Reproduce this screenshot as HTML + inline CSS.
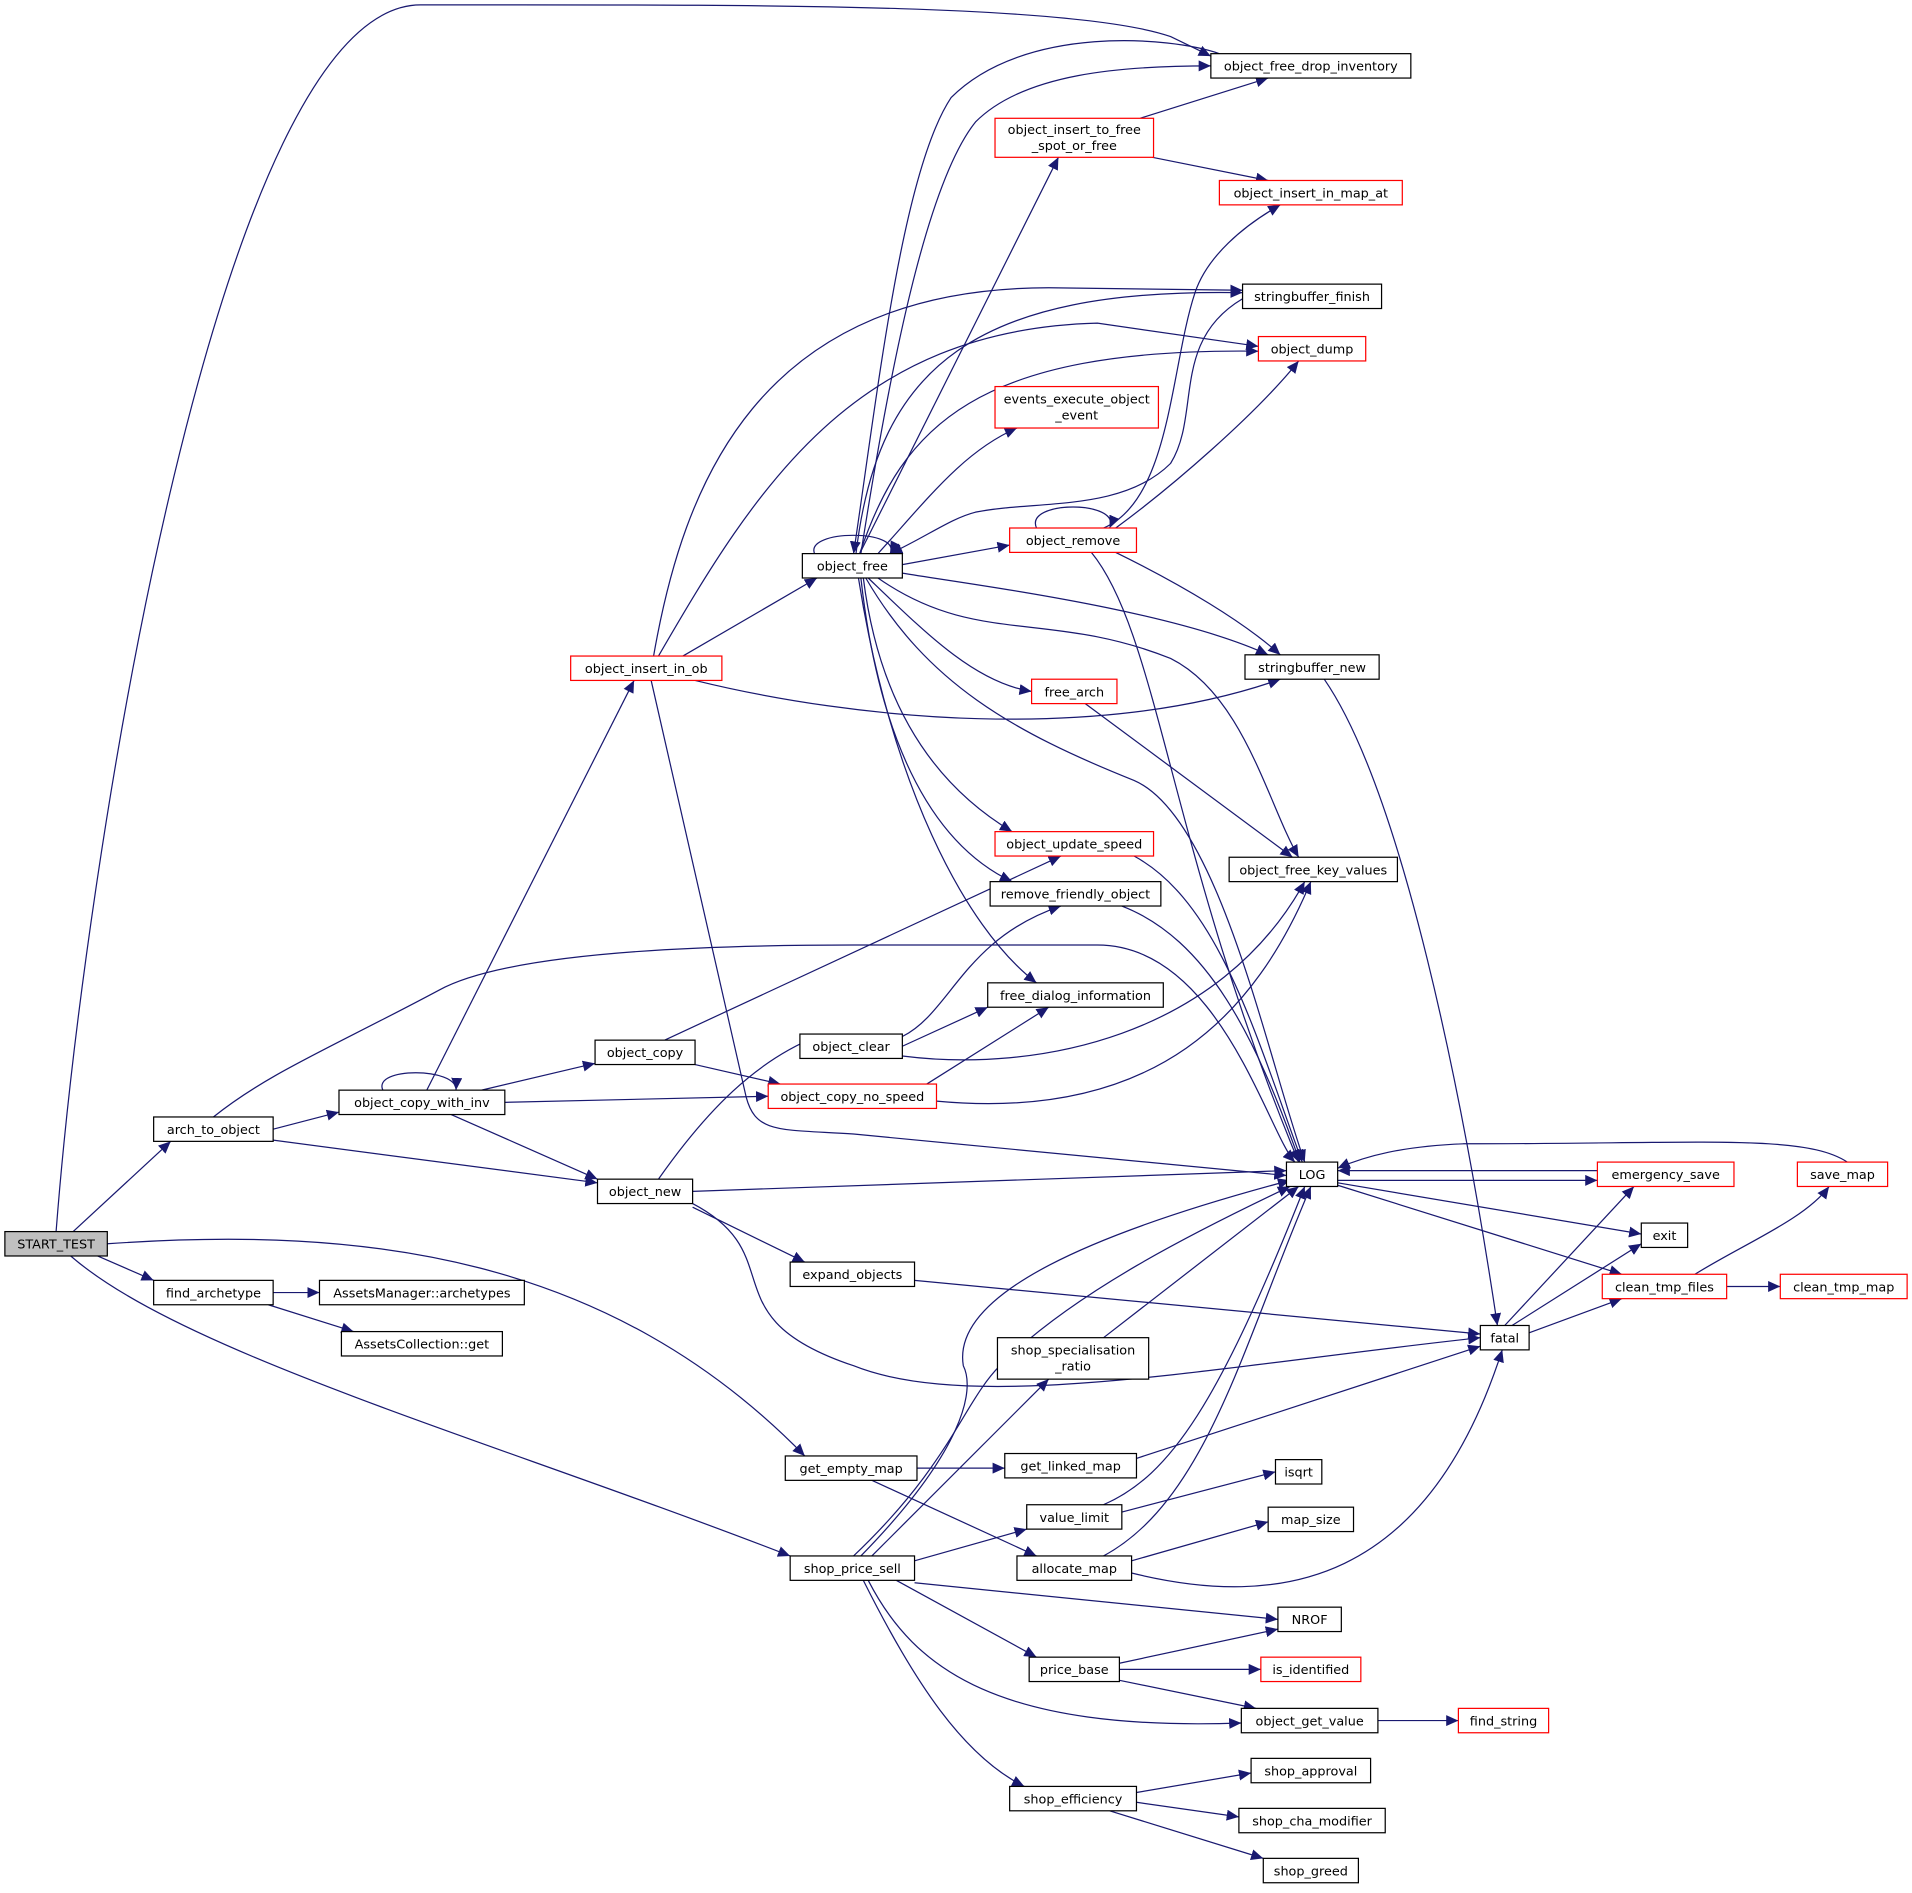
<!DOCTYPE html>
<html><head><meta charset="utf-8"><style>
html,body{margin:0;padding:0;background:#fff;}
svg{display:block}
text{font-family:"DejaVu Sans","Liberation Sans",sans-serif;font-size:10.5px;fill:#000;text-anchor:middle}
.n{fill:#fff;stroke:#000;stroke-width:1}
.r{fill:#fff;stroke:#ff0000;stroke-width:1}
.e path{fill:none;stroke:#191970;stroke-width:1;marker-end:url(#a)}
</style></head><body>
<svg width="1912" height="1893" viewBox="0 0 1568 1552.4" xmlns="http://www.w3.org/2000/svg">
<defs><marker id="a" markerUnits="userSpaceOnUse" markerWidth="11" markerHeight="9" refX="10" refY="4.5" orient="auto"><path d="M0,0 L10,4.5 L0,9 Z" fill="#191970"/></marker></defs>
<g class="e">
<path d="M46,1010 C70,700 180,4 345,4 C600,4 880,2 960,30 L993,46"/>
<path d="M60,1010 L140,936"/>
<path d="M80,1030 L126,1050"/>
<path d="M88,1020 C300,1005 500,1030 660,1194"/>
<path d="M58,1030 C150,1110 400,1180 648,1276"/>
<path d="M224,1060 L262,1060"/>
<path d="M220,1070 L290,1092"/>
<path d="M224,926 L278,912"/>
<path d="M224,935 L490,970"/>
<path d="M175,916 C220,880 270,860 360,812 C400,790 500,775 700,775 L900,775 C1000,775 1040,930 1062,953"/>
<path d="M314,894 C305,875 375,875 374,894"/>
<path d="M350,894 L520,558"/>
<path d="M395,894 L488,872"/>
<path d="M414,904 L630,899"/>
<path d="M370,914 L490,967"/>
<path d="M560,538 L670,474"/>
<path d="M536,538 C560,400 620,236 860,236 L1019,238"/>
<path d="M540,538 C620,400 700,270 900,265 L1032,284"/>
<path d="M570,558 C700,590 900,610 1050,557"/>
<path d="M534,558 L612,900 C620,930 640,926 700,930 L1055,964"/>
<path d="M545,853 L870,702"/>
<path d="M570,873 L640,889"/>
<path d="M540,967 C580,910 620,870 670,850"/>
<path d="M568,977 L1055,960"/>
<path d="M568,990 L660,1035"/>
<path d="M568,987 C650,1030 580,1080 700,1120 C800,1160 1000,1120 1214,1097"/>
<path d="M740,850 C780,830 790,770 870,743"/>
<path d="M740,858 L810,826"/>
<path d="M740,866 C850,880 1000,850 1070,723"/>
<path d="M760,889 L860,826"/>
<path d="M768,903 C950,920 1030,830 1075,723"/>
<path d="M668,454 C660,434 740,434 730,454"/>
<path d="M1000,44 C960,30 840,20 780,80 C740,140 720,320 700,454"/>
<path d="M706,454 C730,300 760,150 800,100 C840,60 920,54 993,54"/>
<path d="M705,454 L868,129"/>
<path d="M702,454 C720,300 800,236 1019,240"/>
<path d="M705,454 C740,350 800,285 1032,288"/>
<path d="M720,454 C760,410 790,370 834,351"/>
<path d="M740,463 L828,447"/>
<path d="M740,470 C800,480 960,500 1040,537"/>
<path d="M712,474 C760,520 800,560 846,567"/>
<path d="M708,474 C720,570 760,640 830,682"/>
<path d="M706,474 C720,600 760,690 830,723"/>
<path d="M704,474 C730,640 790,760 850,806"/>
<path d="M720,474 C800,530 860,500 960,540 C1020,570 1040,660 1065,703"/>
<path d="M710,474 C760,560 830,600 930,640 C1000,670 1040,870 1070,953"/>
<path d="M1019,245 C960,280 985,340 960,380 C920,420 850,410 800,420 C780,425 760,440 730,454"/>
<path d="M905,433 C960,410 960,300 980,240 C990,210 1020,185 1050,168"/>
<path d="M915,433 C960,400 1030,340 1065,296"/>
<path d="M935,97 L1040,64"/>
<path d="M945,129 L1040,148"/>
<path d="M850,433 C840,410 920,410 910,433"/>
<path d="M915,453 C970,480 1020,510 1050,537"/>
<path d="M895,453 C950,520 960,700 1065,953"/>
<path d="M890,577 L1060,703"/>
<path d="M930,702 C1000,740 1030,850 1068,953"/>
<path d="M920,743 C990,770 1030,850 1066,953"/>
<path d="M1086,557 C1150,650 1200,900 1228,1087"/>
<path d="M1097,968 L1310,968"/>
<path d="M1310,960 L1097,960"/>
<path d="M1515,953 C1480,930 1400,938 1200,938 C1150,940 1120,948 1097,958"/>
<path d="M1097,970 L1346,1012"/>
<path d="M1097,972 L1330,1045"/>
<path d="M1240,1087 L1346,1020"/>
<path d="M1234,1087 L1340,973"/>
<path d="M1254,1093 L1330,1065"/>
<path d="M1390,1045 C1430,1020 1480,1000 1500,973"/>
<path d="M1416,1055 L1460,1055"/>
<path d="M750,1050 L1214,1094"/>
<path d="M905,1097 L1065,973"/>
<path d="M752,1204 L824,1204"/>
<path d="M715,1214 L850,1276"/>
<path d="M932,1196 L1214,1104"/>
<path d="M920,1240 L1046,1207"/>
<path d="M905,1234 C960,1210 1000,1150 1070,973"/>
<path d="M928,1280 L1040,1248"/>
<path d="M905,1276 C990,1230 1020,1100 1075,973"/>
<path d="M928,1290 C1050,1320 1170,1300 1232,1107"/>
<path d="M700,1276 C780,1200 790,1150 820,1120 C880,1060 980,1010 1058,973"/>
<path d="M706,1276 C790,1190 800,1140 790,1120 C780,1060 900,1010 1058,968"/>
<path d="M715,1276 L860,1131"/>
<path d="M750,1280 L842,1254"/>
<path d="M750,1298 L1048,1328"/>
<path d="M735,1296 L850,1359"/>
<path d="M712,1296 C750,1370 820,1420 1018,1413"/>
<path d="M708,1296 C750,1380 790,1440 840,1465"/>
<path d="M918,1364 L1048,1336"/>
<path d="M918,1369 L1034,1369"/>
<path d="M918,1378 L1030,1401"/>
<path d="M1130,1411 L1196,1411"/>
<path d="M932,1470 L1026,1454"/>
<path d="M932,1478 L1016,1490"/>
<path d="M910,1485 L1036,1524"/>
</g>
<g>
<rect x="4" y="1010" width="84" height="20" fill="#bfbfbf" stroke="#000"/><text x="46" y="1024">START_TEST</text>
<rect class="n" x="126" y="916" width="98" height="20"/><text x="175" y="930">arch_to_object</text>
<rect class="n" x="126" y="1050" width="98" height="20"/><text x="175" y="1064">find_archetype</text>
<rect class="n" x="262" y="1050" width="168" height="20"/><text x="346" y="1064">AssetsManager::archetypes</text>
<rect class="n" x="280" y="1092" width="132" height="20"/><text x="346" y="1106">AssetsCollection::get</text>
<rect class="n" x="278" y="894" width="136" height="20"/><text x="346" y="908">object_copy_with_inv</text>
<rect class="r" x="468" y="538" width="124" height="20"/><text x="530" y="552">object_insert_in_ob</text>
<rect class="n" x="488" y="853" width="82" height="20"/><text x="529" y="867">object_copy</text>
<rect class="n" x="490" y="967" width="78" height="20"/><text x="529" y="981">object_new</text>
<rect class="n" x="658" y="454" width="82" height="20"/><text x="699" y="468">object_free</text>
<rect class="n" x="656" y="848" width="84" height="20"/><text x="698" y="862">object_clear</text>
<rect class="r" x="630" y="889" width="138" height="20"/><text x="699" y="903">object_copy_no_speed</text>
<rect class="n" x="648" y="1035" width="102" height="20"/><text x="699" y="1049">expand_objects</text>
<rect class="n" x="644" y="1194" width="108" height="20"/><text x="698" y="1208">get_empty_map</text>
<rect class="n" x="648" y="1276" width="102" height="20"/><text x="699" y="1290">shop_price_sell</text>
<rect class="n" x="993" y="44" width="164" height="20"/><text x="1075" y="58">object_free_drop_inventory</text>
<rect class="r" x="816" y="97" width="130" height="32"/><text x="881" y="110">object_insert_to_free</text><text x="881" y="123">_spot_or_free</text>
<rect class="r" x="1000" y="148" width="150" height="20"/><text x="1075" y="162">object_insert_in_map_at</text>
<rect class="n" x="1019" y="233" width="114" height="20"/><text x="1076" y="247">stringbuffer_finish</text>
<rect class="r" x="1032" y="276" width="88" height="20"/><text x="1076" y="290">object_dump</text>
<rect class="r" x="816" y="317" width="134" height="34"/><text x="883" y="331">events_execute_object</text><text x="883" y="344">_event</text>
<rect class="r" x="828" y="433" width="104" height="20"/><text x="880" y="447">object_remove</text>
<rect class="n" x="1021" y="537" width="110" height="20"/><text x="1076" y="551">stringbuffer_new</text>
<rect class="r" x="846" y="557" width="70" height="20"/><text x="881" y="571">free_arch</text>
<rect class="r" x="816" y="682" width="130" height="20"/><text x="881" y="696">object_update_speed</text>
<rect class="n" x="1008" y="703" width="138" height="20"/><text x="1077" y="717">object_free_key_values</text>
<rect class="n" x="812" y="723" width="140" height="20"/><text x="882" y="737">remove_friendly_object</text>
<rect class="n" x="810" y="806" width="144" height="20"/><text x="882" y="820">free_dialog_information</text>
<rect class="n" x="1055" y="953" width="42" height="20"/><text x="1076" y="967">LOG</text>
<rect class="r" x="1310" y="953" width="112" height="20"/><text x="1366" y="967">emergency_save</text>
<rect class="r" x="1474" y="953" width="74" height="20"/><text x="1511" y="967">save_map</text>
<rect class="n" x="1346" y="1003" width="38" height="20"/><text x="1365" y="1017">exit</text>
<rect class="r" x="1314" y="1045" width="102" height="20"/><text x="1365" y="1059">clean_tmp_files</text>
<rect class="r" x="1460" y="1045" width="104" height="20"/><text x="1512" y="1059">clean_tmp_map</text>
<rect class="n" x="1214" y="1087" width="40" height="20"/><text x="1234" y="1101">fatal</text>
<rect class="n" x="818" y="1097" width="124" height="34"/><text x="880" y="1111">shop_specialisation</text><text x="880" y="1124">_ratio</text>
<rect class="n" x="824" y="1192" width="108" height="20"/><text x="878" y="1206">get_linked_map</text>
<rect class="n" x="1046" y="1197" width="38" height="20"/><text x="1065" y="1211">isqrt</text>
<rect class="n" x="842" y="1234" width="78" height="20"/><text x="881" y="1248">value_limit</text>
<rect class="n" x="1040" y="1236" width="70" height="20"/><text x="1075" y="1250">map_size</text>
<rect class="n" x="834" y="1276" width="94" height="20"/><text x="881" y="1290">allocate_map</text>
<rect class="n" x="1048" y="1318" width="52" height="20"/><text x="1074" y="1332">NROF</text>
<rect class="n" x="844" y="1359" width="74" height="20"/><text x="881" y="1373">price_base</text>
<rect class="r" x="1034" y="1359" width="82" height="20"/><text x="1075" y="1373">is_identified</text>
<rect class="n" x="1018" y="1401" width="112" height="20"/><text x="1074" y="1415">object_get_value</text>
<rect class="r" x="1196" y="1401" width="74" height="20"/><text x="1233" y="1415">find_string</text>
<rect class="n" x="1026" y="1442" width="98" height="20"/><text x="1075" y="1456">shop_approval</text>
<rect class="n" x="828" y="1465" width="104" height="20"/><text x="880" y="1479">shop_efficiency</text>
<rect class="n" x="1016" y="1483" width="120" height="20"/><text x="1076" y="1497">shop_cha_modifier</text>
<rect class="n" x="1036" y="1524" width="78" height="20"/><text x="1075" y="1538">shop_greed</text>
</g>
</svg>
</body></html>
